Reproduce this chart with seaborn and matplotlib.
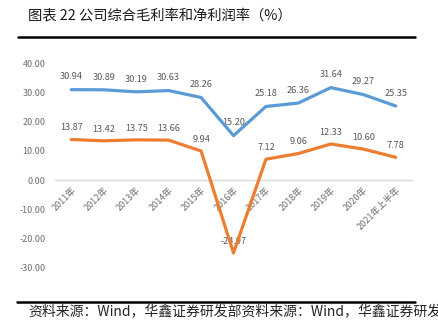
import matplotlib
matplotlib.use("Agg")
import matplotlib.pyplot as plt
import seaborn as sns
import pandas as pd
from matplotlib.lines import Line2D

# Company gross margin and net margin, 2011 - 2021H1 (%)
periods = ["2011年", "2012年", "2013年", "2014年", "2015年", "2016年",
           "2017年", "2018年", "2019年", "2020年", "2021年上半年"]
gross_margin = [30.94, 30.89, 30.19, 30.63, 28.26, 15.20,
                25.18, 26.36, 31.64, 29.27, 25.35]
net_margin = [13.87, 13.42, 13.75, 13.66, 9.94, -24.97,
              7.12, 9.06, 12.33, 10.60, 7.78]
series_names = ["综合毛利率", "净利润率"]
y_ticks = [-30, -20, -10, 0, 10, 20, 30, 40]

title_text = "图表 22 公司综合毛利率和净利润率（%）"
source_text = "资料来源：Wind，华鑫证券研发部资料来源：Wind，华鑫证券研发部"

sns.set_style("white")
plt.rcParams["font.family"] = ["Noto Sans CJK SC", "DejaVu Sans"]
plt.rcParams["axes.unicode_minus"] = False

df = pd.DataFrame({
    "period": periods * 2,
    "value": gross_margin + net_margin,
    "series": [series_names[0]] * len(periods) + [series_names[1]] * len(periods),
})

W, H = 439, 335
fig = plt.figure(figsize=(W / 100, H / 100), dpi=100)

# plot area in pixel coordinates
left_px, right_px = 55.1, 411.9
top_px, bottom_px = 48.6, 282.2
ax = fig.add_axes([left_px / W, 1 - bottom_px / H,
                   (right_px - left_px) / W, (bottom_px - top_px) / H])

blue = "#5B9BD5"
orange = "#ED7D31"
sns.lineplot(data=df, x="period", y="value", hue="series", sort=False,
             palette=[blue, orange], linewidth=2.3, legend=False, ax=ax,
             zorder=3)

ax.set_xlim(-0.5, len(periods) - 0.5)
ax.set_ylim(-35, 45)
ax.set_yticks(y_ticks)
ax.set_yticklabels([f"{t:.2f}" for t in y_ticks])
ax.set_xlabel("")
ax.set_ylabel("")

for side in ["top", "right", "left"]:
    ax.spines[side].set_visible(False)
ax.spines["bottom"].set_position(("data", 0))
ax.spines["bottom"].set_color("#D9D9D9")
ax.spines["bottom"].set_linewidth(1.0)
ax.spines["bottom"].set_zorder(1)

tick_color = "#6e6e6e"
ax.tick_params(axis="y", length=0, pad=7, labelsize=6.5, labelcolor=tick_color)
ax.tick_params(axis="x", length=0, pad=4, labelsize=6.5, labelcolor=tick_color)
ax.set_xticks(range(len(periods)))
ax.set_xticklabels(periods, rotation=45, ha="right", va="top",
                   rotation_mode="anchor")

label_color = "#595959"
for i, v in enumerate(gross_margin):
    ax.annotate(f"{v:.2f}", (i, v), xytext=(0, 9.2), textcoords="offset points",
                ha="center", va="center", fontsize=6.6, color=label_color,
                zorder=2)
for i, v in enumerate(net_margin):
    ax.annotate(f"{v:.2f}", (i, v), xytext=(0, 8.5), textcoords="offset points",
                ha="center", va="center", fontsize=6.6, color=label_color,
                zorder=2)

# title and rule
fig.text(28 / W, 1 - 15 / H, title_text, ha="left", va="center",
         fontsize=10.3, color="#1a1a1a")
fig.add_artist(Line2D([18 / W, 415 / W], [1 - 37 / H, 1 - 37 / H],
                      color="black", linewidth=1.8, transform=fig.transFigure))

# source rule and note
fig.add_artist(Line2D([17 / W, 415 / W], [1 - 302 / H, 1 - 302 / H],
                      color="black", linewidth=1.8, transform=fig.transFigure))
fig.text(28 / W, 1 - 311 / H, source_text, ha="left", va="center",
         fontsize=10, color="#262626")

fig.savefig("out.png", dpi=100)
